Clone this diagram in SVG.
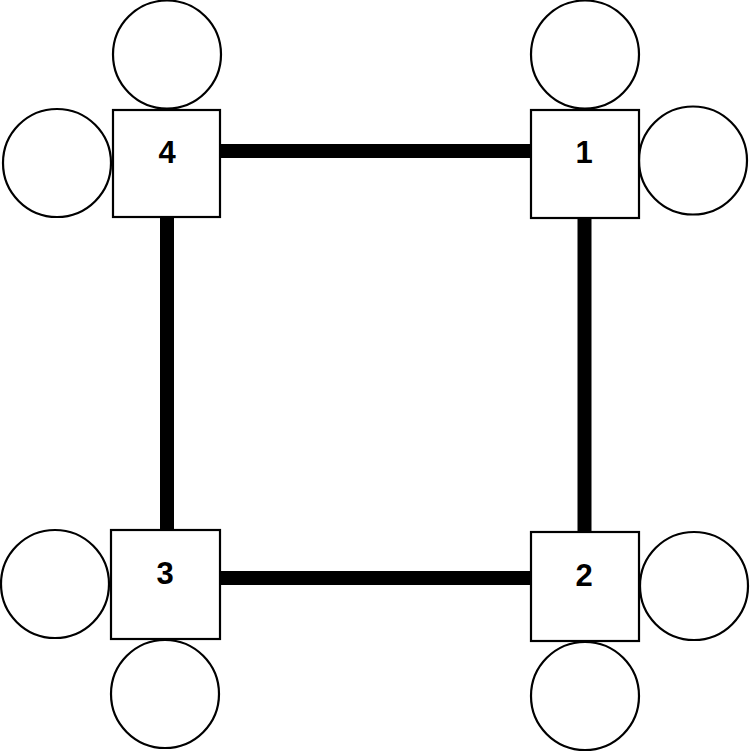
<svg xmlns="http://www.w3.org/2000/svg" width="750" height="752" viewBox="0 0 750 752">
<style>
.sq{fill:#fff;stroke:#000;stroke-width:2.2}
.c{fill:#fff;stroke:#000;stroke-width:2.2}
.e{stroke:#000;stroke-width:14;fill:none}
.t{font-family:"Liberation Sans",Arial,sans-serif;font-weight:bold;font-size:31px;text-anchor:middle;fill:#000}
</style>
<rect width="750" height="752" fill="#fff"/>
<g id="connectors">
<line class="e" x1="220" y1="151" x2="531" y2="151"/>
<line class="e" x1="220" y1="578" x2="531" y2="578"/>
<line class="e" x1="167" y1="217" x2="167" y2="530"/>
<line class="e" x1="584.5" y1="218" x2="584.5" y2="532"/>
</g>
<g id="node4">
<circle class="c" cx="167" cy="54.5" r="54"/>
<circle class="c" cx="57" cy="163" r="54"/>
<rect class="sq" x="113" y="110" width="107" height="107"/>
<text class="t" x="167" y="163">4</text>
</g>
<g id="node1">
<circle class="c" cx="585" cy="54.5" r="54"/>
<circle class="c" cx="693" cy="160.5" r="54"/>
<rect class="sq" x="531" y="110" width="108" height="108"/>
<text class="t" x="584" y="163">1</text>
</g>
<g id="node3">
<circle class="c" cx="55" cy="584" r="54"/>
<circle class="c" cx="165" cy="694" r="54"/>
<rect class="sq" x="111" y="530" width="109" height="109"/>
<text class="t" x="165" y="584">3</text>
</g>
<g id="node2">
<circle class="c" cx="694" cy="586" r="54"/>
<circle class="c" cx="585" cy="696" r="54"/>
<rect class="sq" x="531" y="532" width="108" height="109"/>
<text class="t" x="584" y="586">2</text>
</g>
</svg>
